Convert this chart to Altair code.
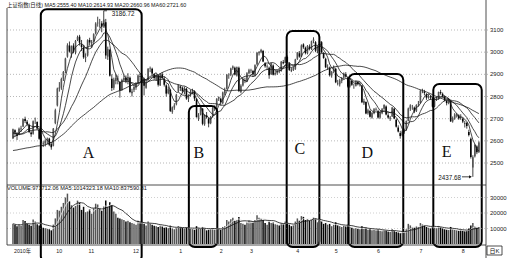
import altair as alt
import numpy as np
import pandas as pd

# Shanghai Composite daily candles, 2010-08-30 .. 2011-08-12
# closes of the 60 sessions before the first candle (used only for the MA60 line)
pre_closes = [
    2571, 2553, 2553, 2513, 2562, 2593, 2570, 2570, 2586, 2514, 2585, 2560, 2551, 2568, 2552, 2535, 2427, 2398,
    2373, 2382, 2363, 2409, 2421, 2415, 2470, 2494, 2490, 2499, 2424, 2424, 2476, 2528, 2535, 2575, 2572, 2574,
    2553, 2598, 2611, 2637,
    2672, 2640, 2668, 2670, 2673, 2689, 2596, 2590, 2545, 2596, 2661, 2670, 2640, 2685, 2642, 2646, 2624, 2587,
    2610, 2611,
]

opens = [
    # Aug-Sep 2010
    2612, 2648, 2630, 2628, 2652, 2665, 2698, 2686, 2672, 2638, 2632, 2690, 2685, 2652, 2603, 2590, 2588, 2605, 2610, 2585, 2578,
    # Oct
    2680, 2760, 2835, 2840, 2880, 2915, 2980, 3030, 2990, 3030, 3000, 3055, 3070, 3035, 3020, 2975,
    # Nov
    2985, 3055, 3040, 3050, 3085, 3130, 3135, 3130, 3120, 3135, 2980, 3010, 2880, 2840, 2870, 2880, 2865, 2830, 2875, 2885, 2875, 2885,
    # Dec
    2815, 2830, 2840, 2860, 2890, 2885, 2880, 2840, 2875, 2925, 2925, 2900, 2880, 2895, 2850, 2900, 2880, 2850, 2815, 2830, 2730, 2750, 2765,
    # Jan 2011
    2825, 2845, 2840, 2820, 2835, 2790, 2805, 2820, 2825, 2790, 2700, 2718, 2745, 2675, 2715, 2700, 2680, 2710, 2745, 2755,
    # Feb
    2790, 2790, 2770, 2815, 2835, 2895, 2898, 2928, 2930, 2895, 2930, 2820, 2850, 2875, 2870,
    # Mar
    2905, 2915, 2915, 2895, 2945, 2995, 3000, 3005, 2950, 2935, 2930, 2900, 2940, 2900, 2905, 2915, 2915, 2955, 2952, 2978, 2950, 2920, 2920,
    # Apr
    2925, 2970, 2995, 2980, 3035, 3020, 2995, 3025, 3015, 3050, 3045, 3005, 3025, 3045, 2995, 2970, 2930, 2930, 2895,
    # May
    2915, 2925, 2860, 2855, 2870, 2885, 2900, 2885, 2845, 2870, 2850, 2848, 2865, 2855, 2850, 2770, 2775, 2725, 2735, 2705, 2725,
    # Jun
    2740, 2735, 2705, 2725, 2745, 2755, 2715, 2700, 2710, 2745, 2695, 2660, 2635, 2625, 2640, 2650, 2690, 2745, 2755, 2750, 2735,
    # Jul
    2765, 2770, 2825, 2822, 2810, 2795, 2800, 2790, 2755, 2785, 2790, 2820, 2812, 2800, 2780, 2770, 2780, 2688, 2700, 2715, 2715,
    # Aug
    2705, 2700, 2680, 2680, 2640, 2610, 2480, 2530, 2575, 2550,
]

highs = [
    2655, 2652, 2640, 2660, 2668, 2700, 2709, 2694, 2678, 2645, 2692, 2705, 2688, 2656, 2625, 2598, 2607, 2615, 2614, 2590, 2658,
    2745, 2840, 2865, 2885, 2915, 2975, 3040, 3048, 3030, 3040, 3055, 3075, 3078, 3055, 3032, 2995,
    3058, 3065, 3055, 3085, 3135, 3160, 3150, 3140, 3186.72, 3150, 3025, 3015, 2900, 2885, 2900, 2895, 2870, 2880, 2895, 2895, 2905, 2890,
    2835, 2850, 2865, 2900, 2905, 2895, 2885, 2870, 2928, 2935, 2930, 2905, 2900, 2898, 2905, 2910, 2890, 2855, 2845, 2835, 2755, 2770, 2812,
    2855, 2850, 2845, 2845, 2840, 2810, 2830, 2835, 2828, 2792, 2725, 2755, 2748, 2720, 2730, 2705, 2712, 2752, 2760, 2792,
    2800, 2795, 2822, 2840, 2900, 2905, 2930, 2940, 2935, 2935, 2935, 2855, 2885, 2885, 2910,
    2925, 2925, 2920, 2945, 3000, 3005, 3015, 3010, 2955, 2945, 2935, 2952, 2945, 2915, 2920, 2925, 2960, 2965, 2980, 2985, 2955, 2930, 2935,
    2970, 3000, 3005, 3035, 3040, 3025, 3032, 3035, 3052, 3067, 3050, 3030, 3052, 3050, 3000, 2975, 2945, 2935, 2915,
    2940, 2930, 2875, 2880, 2888, 2908, 2910, 2890, 2875, 2875, 2858, 2872, 2870, 2865, 2852, 2790, 2778, 2745, 2740, 2730, 2748,
    2750, 2740, 2735, 2748, 2765, 2760, 2725, 2712, 2752, 2748, 2700, 2670, 2645, 2648, 2655, 2692, 2750, 2765, 2762, 2755, 2765,
    2780, 2830, 2835, 2830, 2815, 2810, 2805, 2795, 2792, 2798, 2822, 2830, 2818, 2805, 2785, 2792, 2785, 2710, 2725, 2725, 2720,
    2720, 2705, 2690, 2685, 2650, 2615, 2535, 2585, 2580, 2598,
]

lows = [
    2608, 2621, 2604, 2625, 2640, 2662, 2680, 2666, 2635, 2618, 2628, 2676, 2650, 2605, 2590, 2572, 2575, 2585, 2576, 2560, 2575,
    2675, 2755, 2822, 2830, 2870, 2905, 2975, 2998, 2975, 2995, 2990, 3050, 3030, 3005, 2970, 2955,
    2980, 3030, 3020, 3045, 3080, 3115, 3110, 3090, 3110, 2970, 2965, 2890, 2825, 2830, 2855, 2855, 2795, 2825, 2865, 2860, 2855, 2815,
    2800, 2820, 2830, 2855, 2870, 2860, 2805, 2835, 2872, 2910, 2895, 2875, 2870, 2845, 2848, 2880, 2845, 2800, 2810, 2730, 2722, 2740, 2760,
    2820, 2825, 2815, 2810, 2785, 2775, 2800, 2810, 2780, 2705, 2690, 2715, 2670, 2668, 2700, 2661, 2675, 2705, 2735, 2750,
    2780, 2760, 2765, 2805, 2832, 2880, 2892, 2920, 2895, 2890, 2820, 2815, 2845, 2860, 2865,
    2900, 2905, 2890, 2890, 2940, 2985, 2995, 2955, 2930, 2920, 2880, 2898, 2895, 2895, 2898, 2905, 2912, 2945, 2950, 2950, 2915, 2910, 2915,
    2920, 2965, 2975, 2978, 3015, 2990, 2990, 3008, 3010, 3040, 3000, 2995, 3020, 2995, 2970, 2928, 2920, 2890, 2885,
    2905, 2860, 2850, 2845, 2860, 2878, 2885, 2840, 2840, 2848, 2835, 2845, 2850, 2845, 2770, 2762, 2720, 2718, 2705, 2700, 2720,
    2735, 2700, 2700, 2720, 2740, 2715, 2700, 2690, 2708, 2698, 2660, 2638, 2610, 2620, 2632, 2645, 2688, 2735, 2740, 2725, 2730,
    2755, 2768, 2815, 2805, 2785, 2790, 2785, 2750, 2752, 2780, 2785, 2808, 2795, 2778, 2760, 2765, 2685, 2682, 2695, 2705, 2695,
    2695, 2680, 2660, 2655, 2620, 2520, 2437.68, 2525, 2540, 2545,
]

closes = [
    2652, 2638, 2622, 2655, 2656, 2697, 2689, 2676, 2640, 2630, 2688, 2690, 2656, 2610, 2598, 2589, 2601, 2610, 2582, 2571, 2655,
    2738, 2836, 2841, 2879, 2911, 2971, 3031, 3003, 3026, 3003, 3051, 3068, 3043, 3023, 2977, 2978,
    3054, 3044, 3047, 3081, 3129, 3133, 3135, 3115, 3147, 2985, 3014, 2894, 2838, 2876, 2884, 2878, 2827, 2875, 2884, 2871, 2888, 2820,
    2823, 2843, 2857, 2895, 2888, 2886, 2849, 2866, 2925, 2927, 2904, 2884, 2896, 2853, 2902, 2884, 2853, 2813, 2833, 2735, 2751, 2760, 2808,
    2852, 2839, 2824, 2838, 2791, 2805, 2821, 2827, 2791, 2707, 2716, 2750, 2677, 2715, 2706, 2678, 2708, 2749, 2752, 2790,
    2798, 2774, 2818, 2827, 2899, 2896, 2926, 2935, 2899, 2932, 2825, 2849, 2879, 2871, 2905,
    2918, 2917, 2900, 2941, 2997, 3001, 3010, 2958, 2937, 2938, 2896, 2950, 2898, 2906, 2915, 2914, 2957, 2950, 2977, 2955, 2920, 2918, 2928,
    2967, 2999, 2980, 3030, 3022, 2996, 3028, 3015, 3049, 3057, 3007, 3026, 3050, 2999, 2974, 2932, 2933, 2896, 2911,
    2932, 2864, 2859, 2872, 2883, 2904, 2890, 2845, 2871, 2853, 2850, 2869, 2855, 2859, 2774, 2780, 2723, 2738, 2709, 2726, 2743,
    2743, 2705, 2728, 2743, 2762, 2719, 2705, 2705, 2750, 2701, 2664, 2642, 2622, 2642, 2649, 2689, 2746, 2760, 2755, 2733, 2762,
    2767, 2827, 2824, 2816, 2795, 2802, 2796, 2754, 2788, 2791, 2820, 2815, 2800, 2782, 2770, 2789, 2688, 2702, 2719, 2718, 2701,
    2703, 2687, 2678, 2667, 2626, 2527, 2526, 2581, 2549, 2593,
]

volumes = [
    13000, 12500, 11500, 12800, 11800, 15500, 14800, 13000, 12500, 11800, 15800, 14500, 12800, 12000, 11500, 10500, 10200, 9800, 9500, 8800, 12500,
    16500, 22000, 21500, 24000, 26500, 30000, 32500, 27500, 25000, 23500, 24500, 28000, 26500, 22000, 24000, 20500,
    21000, 22500, 19500, 23000, 26000, 25500, 23000, 21500, 24500, 28000, 24000, 27000, 25000, 21000, 19500, 17000, 16500, 16000, 15500, 14500, 15000, 14000,
    13500, 13000, 12500, 15000, 14000, 13500, 13000, 12000, 14500, 13500, 12500, 11800, 11500, 11000, 12000, 11500, 10500, 10800, 10200, 11800, 10000, 9500, 10500,
    11500, 11000, 10500, 10000, 10800, 9500, 9800, 9600, 9200, 11500, 10500, 9800, 11000, 10000, 8800, 9200, 9600, 10200, 9400, 10500,
    9800, 9200, 11000, 11500, 15500, 14500, 16000, 17000, 15000, 15500, 17500, 13500, 13000, 12500, 14000,
    15000, 14500, 14000, 15500, 18500, 17000, 16500, 15500, 13500, 12500, 14500, 13500, 14000, 12800, 12500, 12000, 13500, 13000, 14500, 14000, 12500, 11500, 12000,
    14500, 16500, 15000, 18000, 17500, 15500, 16000, 15000, 15500, 17000, 16500, 14000, 15000, 14500, 13000, 13500, 12500, 13000, 11500,
    12500, 14000, 12000, 11500, 11000, 12000, 11500, 12500, 11000, 10500, 10000, 10200, 9800, 9500, 11500, 9800, 10500, 9200, 9500, 8800, 9000,
    8800, 9500, 8500, 8200, 9000, 8800, 8000, 7800, 9500, 8500, 7800, 7500, 7000, 7200, 7500, 9500, 13000, 12000, 11000, 10500, 11500,
    11000, 13500, 12500, 12000, 11000, 10500, 10000, 11500, 10500, 10200, 11500, 10800, 10000, 9500, 9200, 9000, 11000, 9500, 9200, 8800, 8500,
    8800, 8500, 8200, 8600, 10000, 12000, 13500, 11500, 10500, 11000,
]

# month labels on the time axis: label and index of the first session of each month
month_labels = ["2010年", "10", "11", "12", "1", "2", "3", "4", "5", "6", "7", "8"]
month_starts = [0, 21, 37, 59, 82, 102, 117, 140, 159, 180, 201, 222]

price_ticks = [2500, 2600, 2700, 2800, 2900, 3000, 3100]
volume_ticks = [10000, 20000, 30000]

# highlighted phases: session range and price span of each frame
box_names = ["A", "B", "C", "D", "E"]
box_from = [13.8, 87.2, 135.7, 166.4, 208.4]
box_to = [63.8, 101.3, 151.9, 193.5, 232.4]
box_top = [3193.4, 2757.2, 3095.5, 2901.5, 2856.4]
box_bottom = [2053.6, 2121.2, 2121.2, 2121.2, 2121.2]
letter_i = [37.4, 92.2, 142.2, 175.7, 215.0]
letter_p = [2545, 2545, 2563, 2545, 2550]

title_line = "上证指数(日线) MA5:2555.40 MA10:2614.93 MA20:2660.96 MA60:2721.60"
volume_line = "VOLUME:971712.06 MA5:1014323.18 MA10:837590.81"
period_tag = "日K"

# ---------------------------------------------------------------------------
W, H = 479, 237
SMALL = "Liberation Sans, Noto Sans CJK SC"

df = pd.DataFrame({"i": range(len(closes)), "open": opens, "high": highs,
                   "low": lows, "close": closes, "vol": volumes})
df["dir"] = np.where(df["close"] >= df["open"], "up", "down")
df["body_lo"] = df[["open", "close"]].min(axis=1)
df["body_hi"] = df[["open", "close"]].max(axis=1)
all_close = pd.Series(pre_closes + closes, dtype=float)
for p in (5, 10, 20, 60):
    df[f"MA{p}"] = all_close.rolling(p).mean().iloc[len(pre_closes):].to_numpy()
df["VMA5"] = df["vol"].rolling(5, min_periods=1).mean()
df["VMA10"] = df["vol"].rolling(10, min_periods=1).mean()

ma_long = df.melt(id_vars="i", value_vars=["MA5", "MA10", "MA20", "MA60"],
                  var_name="ma", value_name="v")

xs = alt.Scale(domain=[-0.485, 232.04], nice=False, zero=False)
ps = alt.Scale(domain=[2130.2, 3199.2], nice=False, zero=False)
vs = alt.Scale(domain=[-645, 152258], nice=False, zero=False)
dir_color = alt.Color("dir:N", legend=None,
                      scale=alt.Scale(domain=["up", "down"], range=["#555555", "#050505"]))

X = alt.X("i:Q", scale=xs, axis=None)

# ---- price panel ----------------------------------------------------------
ptick_df = pd.DataFrame({"p": price_ticks})
price_grid = alt.Chart(ptick_df).mark_rule(color="#9a9a9a", strokeDash=[1, 2], strokeWidth=0.7).encode(
    y=alt.Y("p:Q", scale=ps, axis=None), x=alt.value(0), x2=alt.value(W + 3))
price_labels = alt.Chart(ptick_df).mark_text(align="left", baseline="middle", fontSize=6,
                                             font=SMALL, color="#222").encode(
    y=alt.Y("p:Q", scale=ps, axis=None), x=alt.value(W + 4), text="p:Q")

wicks = alt.Chart(df).mark_rule(strokeWidth=0.8, color="#111").encode(
    x=X, y=alt.Y("low:Q", scale=ps, axis=None), y2="high:Q")
bodies = alt.Chart(df).mark_bar(size=1.6).encode(
    x=X, y=alt.Y("body_lo:Q", scale=ps, axis=None), y2="body_hi:Q", color=dir_color)
ma_lines = alt.Chart(ma_long).mark_line(strokeWidth=0.8, color="#1a1a1a").encode(
    x=X, y=alt.Y("v:Q", scale=ps, axis=None), detail="ma:N")

box_df = pd.DataFrame({"name": box_names, "x0": box_from, "x1": box_to,
                       "top": box_top, "bottom": box_bottom,
                       "li": letter_i, "lp": letter_p})
boxes = alt.Chart(box_df).mark_rect(fillOpacity=0, stroke="black", strokeWidth=2,
                                    cornerRadius=6).encode(
    x=alt.X("x0:Q", scale=xs, axis=None), x2="x1:Q",
    y=alt.Y("top:Q", scale=ps, axis=None), y2="bottom:Q")
letters = alt.Chart(box_df).mark_text(font="Liberation Serif", fontSize=16, color="#111",
                                      baseline="middle").encode(
    x=alt.X("li:Q", scale=xs, axis=None), y=alt.Y("lp:Q", scale=ps, axis=None), text="name:N")

# extreme values
hi_i = int(df["high"].idxmax())
lo_i = int(df["low"].idxmin())
peak_df = pd.DataFrame({"i": [hi_i], "i2": [hi_i + 1.6], "p": [highs[hi_i]],
                        "t": [f"{highs[hi_i]:.2f}"]})
peak_tick = alt.Chart(peak_df).mark_rule(strokeWidth=0.8, color="#111").encode(
    x=alt.X("i:Q", scale=xs, axis=None), x2="i2:Q", y=alt.Y("p:Q", scale=ps, axis=None))
peak_text = alt.Chart(peak_df).mark_text(align="left", baseline="middle", fontSize=6.3,
                                         font=SMALL, dx=8, dy=3.5, color="#111").encode(
    x=alt.X("i:Q", scale=xs, axis=None), y=alt.Y("p:Q", scale=ps, axis=None), text="t:N")

low_df = pd.DataFrame({"i": [lo_i], "a0": [lo_i - 5.4], "a1": [lo_i - 1.2],
                       "p": [lows[lo_i]], "t": [f"{lows[lo_i]:.2f}"]})
low_arrow = alt.Chart(low_df).mark_rule(strokeWidth=0.8, color="#111").encode(
    x=alt.X("a0:Q", scale=xs, axis=None), x2="a1:Q", y=alt.Y("p:Q", scale=ps, axis=None))
low_head = alt.Chart(low_df).mark_point(shape="triangle-right", size=10, filled=True,
                                        color="#111", opacity=1).encode(
    x=alt.X("a1:Q", scale=xs, axis=None), y=alt.Y("p:Q", scale=ps, axis=None))
low_text = alt.Chart(low_df).mark_text(align="right", baseline="middle", fontSize=6.3,
                                       font=SMALL, dx=-1, dy=1, color="#111").encode(
    x=alt.X("a0:Q", scale=xs, axis=None), y=alt.Y("p:Q", scale=ps, axis=None), text="t:N")

price_panel = alt.layer(price_grid, price_labels, wicks, bodies, ma_lines, boxes, letters,
                        peak_tick, peak_text, low_arrow, low_head, low_text)

# ---- volume panel ---------------------------------------------------------
vtick_df = pd.DataFrame({"v": volume_ticks})
vol_grid = alt.Chart(vtick_df).mark_rule(color="#b0b0b0", strokeDash=[1, 2], strokeWidth=0.6).encode(
    y=alt.Y("v:Q", scale=vs, axis=None), x=alt.value(0), x2=alt.value(W + 3))
vol_labels = alt.Chart(vtick_df).mark_text(align="left", baseline="middle", fontSize=6,
                                           font=SMALL, color="#222").encode(
    y=alt.Y("v:Q", scale=vs, axis=None), x=alt.value(W + 4), text="v:Q")
vol_bars = alt.Chart(df).mark_bar(size=1.5).encode(
    x=X, y=alt.Y("vol:Q", scale=vs, axis=None), y2=alt.datum(0), color=dir_color)
vol_ma5 = alt.Chart(df).mark_line(strokeWidth=0.8, color="#f2f2f2").encode(
    x=X, y=alt.Y("VMA5:Q", scale=vs, axis=None))
vol_ma10 = alt.Chart(df).mark_line(strokeWidth=0.8, color="#111").encode(
    x=X, y=alt.Y("VMA10:Q", scale=vs, axis=None))

volume_panel = alt.layer(vol_grid, vol_labels, vol_bars, vol_ma5, vol_ma10)

# ---- frame, headers and time axis ------------------------------------------
title_text = alt.Chart(pd.DataFrame({"t": [title_line]})).mark_text(
    align="left", baseline="middle", fontSize=5.4, font=SMALL, color="#111").encode(
    x=alt.value(0), y=alt.value(-3), text="t:N")
vol_text = alt.Chart(pd.DataFrame({"t": [volume_line]})).mark_text(
    align="left", baseline="middle", fontSize=5.6, font=SMALL, color="#111").encode(
    x=alt.value(0), y=alt.value(180), text="t:N")
frame = pd.DataFrame({"k": [0]})
separator = alt.Chart(frame).mark_rule(color="#222", strokeWidth=0.8).encode(
    x=alt.value(0), x2=alt.value(W), y=alt.value(177))
bottom_line = alt.Chart(frame).mark_rule(color="#222", strokeWidth=0.8).encode(
    x=alt.value(0), x2=alt.value(W), y=alt.value(H))
left_line = alt.Chart(frame).mark_rule(color="#222", strokeWidth=0.8).encode(
    x=alt.value(0), y=alt.value(0), y2=alt.value(H))
right_line = alt.Chart(frame).mark_rule(color="#222", strokeWidth=0.8).encode(
    x=alt.value(W), y=alt.value(-8), y2=alt.value(H + 13))

tag_box = alt.Chart(frame).mark_rect(fillOpacity=0, stroke="#222", strokeWidth=0.8).encode(
    x=alt.value(W + 1), x2=alt.value(W + 16), y=alt.value(H + 1), y2=alt.value(H + 10))
tag_text = alt.Chart(pd.DataFrame({"t": [period_tag]})).mark_text(
    align="center", baseline="middle", fontSize=6, font=SMALL, color="#111").encode(
    x=alt.value(W + 8.5), y=alt.value(H + 5.5), text="t:N")

months = pd.DataFrame({"s": month_starts, "lab": month_labels})
month_text = alt.Chart(months).mark_text(align="left", baseline="middle", fontSize=5.3,
                                         font=SMALL, color="#222", dx=1).encode(
    x=alt.X("s:Q", scale=xs, axis=None), y=alt.value(H + 6), text="lab:N")

decor = alt.layer(title_text, vol_text, separator, bottom_line, left_line, right_line,
                  tag_box, tag_text, month_text)

chart = alt.layer(price_panel, volume_panel, decor).resolve_scale(y="independent").properties(
    width=W, height=H,
    padding={"left": 7, "top": 8, "right": 24, "bottom": 13},
    autosize=alt.AutoSizeParams(type="none"),
    background="white",
).configure_view(stroke=None)

chart.save("out.html", embed_options={"renderer": "svg", "actions": False})
